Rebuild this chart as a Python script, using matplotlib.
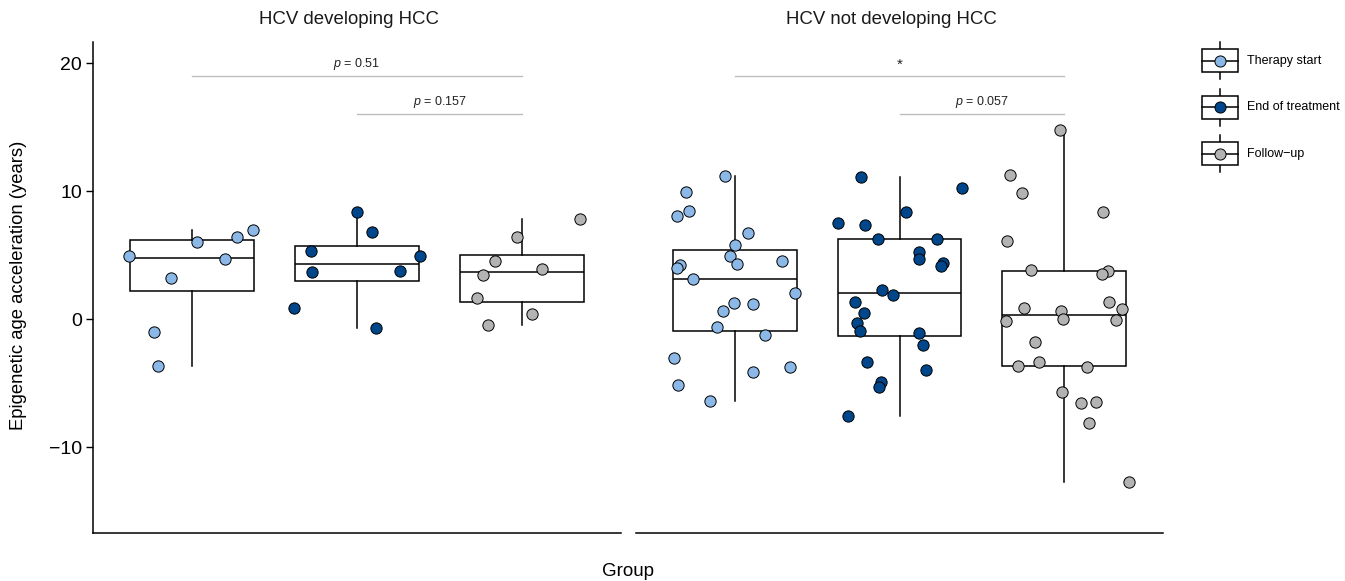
import matplotlib
matplotlib.use("Agg")
import matplotlib.pyplot as plt
from matplotlib.legend_handler import HandlerBase
from matplotlib.patches import Rectangle
from matplotlib.lines import Line2D
import numpy as np

plt.rcParams['font.family'] = ['Liberation Sans', 'DejaVu Sans']
plt.rcParams['mathtext.fontset'] = 'custom'
plt.rcParams['mathtext.it'] = 'Liberation Sans:italic'
plt.rcParams['mathtext.rm'] = 'Liberation Sans'

panels = ["HCV developing HCC", "HCV not developing HCC"]
timepoints = ["Therapy start", "End of treatment", "Follow\u2212up"]
colors = ["#8cb8e8", "#00468a", "#b3b3b3"]

# epigenetic age acceleration (years)
hcc_start = [4.92, 6.07, 6.41, 6.98, 4.69, 3.26, -1.02, -3.62]
hcc_end = [8.38, 6.85, 5.34, 4.92, 3.72, 3.75, 0.91, -0.68]
hcc_follow = [7.86, 6.43, 4.53, 3.96, 3.49, 1.67, 0.44, -0.44]

nohcc_start = [11.2, 9.92, 8.48, 8.09, 6.74, 5.83, 4.92, 4.35, 4.27, 4.01, 4.53, 3.12,
               2.03, 1.30, 1.17, 0.67, -0.60, -1.20, -3.0, -3.73, -4.12, -5.16, -6.41]
nohcc_end = [11.14, 10.28, 8.41, 7.55, 7.39, 6.30, 6.30, 5.28, 4.71, 4.40, 4.16, 2.27,
             1.88, 1.33, 0.47, -0.31, -0.89, -1.07, -2.03, -3.36, -3.98, -4.87, -5.29, -7.55]
nohcc_follow = [14.81, 11.25, 9.87, 8.38, 6.12, 3.88, 3.77, 3.51, 1.38, 0.91, 0.62, 0.80,
                0.02, -0.13, -0.03, -1.75, -3.31, -3.67, -3.70, -5.70, -6.51, -6.46, -8.08, -12.73]

# horizontal jitter of each point (category units), as seen in the figure
hcc_start_jit = [-0.379, 0.033, 0.274, 0.368, 0.197, -0.126, -0.232, -0.209]
hcc_end_jit = [0.0, 0.091, -0.279, 0.379, -0.273, 0.258, -0.380, 0.115]
hcc_follow_jit = [0.352, -0.032, -0.162, 0.121, -0.236, -0.271, 0.061, -0.204]
nohcc_start_jit = [-0.062, -0.298, -0.278, -0.350, 0.080, 0.001, -0.029, 0.011, -0.335, -0.350,
                   0.284, -0.253, 0.368, -0.005, 0.112, -0.070, -0.108, 0.181, -0.368, 0.338,
                   0.110, -0.347, -0.153]
nohcc_end_jit = [-0.232, 0.377, 0.039, -0.371, -0.207, -0.128, 0.229, 0.120, 0.120, 0.264,
                 0.252, -0.104, -0.038, -0.270, -0.215, -0.256, -0.241, 0.120, 0.142, -0.199,
                 0.162, -0.114, -0.122, -0.312]
nohcc_follow_jit = [-0.025, -0.330, -0.259, 0.233, -0.347, -0.201, 0.265, 0.227, 0.274, -0.247,
                    -0.021, 0.353, -0.005, -0.353, 0.314, -0.177, -0.155, -0.278, 0.136, -0.013,
                    0.102, 0.195, 0.150, 0.393]

data = [[hcc_start, hcc_end, hcc_follow], [nohcc_start, nohcc_end, nohcc_follow]]
jitter = [[hcc_start_jit, hcc_end_jit, hcc_follow_jit],
          [nohcc_start_jit, nohcc_end_jit, nohcc_follow_jit]]

# (panel, from, to, height, label)
brackets = [(0, 1, 3, 19.0, r"$p$ = 0.51"), (0, 2, 3, 16.0, r"$p$ = 0.157"),
            (1, 1, 3, 19.0, "*"), (1, 2, 3, 16.0, r"$p$ = 0.057")]


class BoxKey(HandlerBase):
    def __init__(self, color):
        super().__init__()
        self.color = color

    def create_artists(self, legend, orig_handle, xdescent, ydescent, width, height, fontsize, trans):
        x0, y0 = -xdescent, -ydescent
        cx, cy = x0 + width / 2, y0 + height / 2
        bh = height * 0.62
        whisk = Line2D([cx, cx], [y0, y0 + height], color="black", lw=1.1, transform=trans)
        rect = Rectangle((x0, cy - bh / 2), width, bh, fc="white", ec="black", lw=1.1, transform=trans)
        med = Line2D([x0, x0 + width], [cy, cy], color="black", lw=1.1, transform=trans)
        dot = Line2D([cx], [cy], marker="o", ms=8.0, mfc=self.color, mec="black", mew=0.7,
                     ls="none", transform=trans)
        return [whisk, rect, med, dot]


W, H = 1345, 581
fig = plt.figure(figsize=(W / 100, H / 100), dpi=100)
axes = [fig.add_axes([93 / W, 1 - 533 / H, 528 / W, 491 / H]),
        fig.add_axes([636 / W, 1 - 533 / H, 527 / W, 491 / H])]

for p, ax in enumerate(axes):
    for i in range(3):
        vals = np.array(data[p][i])
        pos = i + 1
        ax.boxplot(vals, positions=[pos], widths=0.75, showfliers=False, showcaps=False,
                   whis=1.5, patch_artist=True,
                   boxprops=dict(facecolor="white", edgecolor="black", lw=1.1),
                   medianprops=dict(color="black", lw=1.1),
                   whiskerprops=dict(color="black", lw=1.1))
        ax.scatter(pos + np.array(jitter[p][i]), vals, s=66, c=colors[i],
                   edgecolors="black", linewidths=0.7, zorder=3)
    for bp, x1, x2, yb, lab in brackets:
        if bp != p:
            continue
        ax.plot([x1, x2], [yb, yb], color="#bdbdbd", lw=1.0)
        ax.text((x1 + x2) / 2, yb + 0.35, lab, ha="center", va="bottom",
                fontsize=11 if lab == "*" else 9, color="#222222")
    ax.set_xlim(0.4, 3.6)
    ax.set_ylim(-16.7, 21.66)
    ax.set_xticks([])
    ax.spines["top"].set_visible(False)
    ax.spines["right"].set_visible(False)
    ax.spines["bottom"].set_linewidth(1.1)
    ax.text(0.5 - 8 / 528, 1 + 22 / 491, panels[p], transform=ax.transAxes,
            ha="center", va="center", fontsize=13.4, color="#1a1a1a")

axes[0].set_yticks([-10, 0, 10, 20])
axes[0].set_yticklabels(["\u221210", "0", "10", "20"])
axes[0].tick_params(axis="y", length=5, width=1, labelsize=14, pad=3)
axes[0].spines["left"].set_linewidth(1.1)
axes[1].spines["left"].set_visible(False)
axes[1].set_yticks([])

fig.text(19 / W, 1 - 285 / H, "Epigenetic age acceleration (years)", rotation=90,
         ha="center", va="center", fontsize=13.3)
fig.text(628 / W, 1 - 571 / H, "Group", ha="center", va="center", fontsize=13.5)

handles = [Line2D([], []) for _ in timepoints]
fig.legend(handles, timepoints, handler_map={h: BoxKey(c) for h, c in zip(handles, colors)},
           loc="upper left", bbox_to_anchor=(1202 / W, 1 - 42 / H), frameon=False,
           fontsize=9, handlelength=2.9, handleheight=4.2, labelspacing=0.75,
           handletextpad=0.7, borderpad=0, borderaxespad=0)

fig.savefig("out.png", dpi=100)
